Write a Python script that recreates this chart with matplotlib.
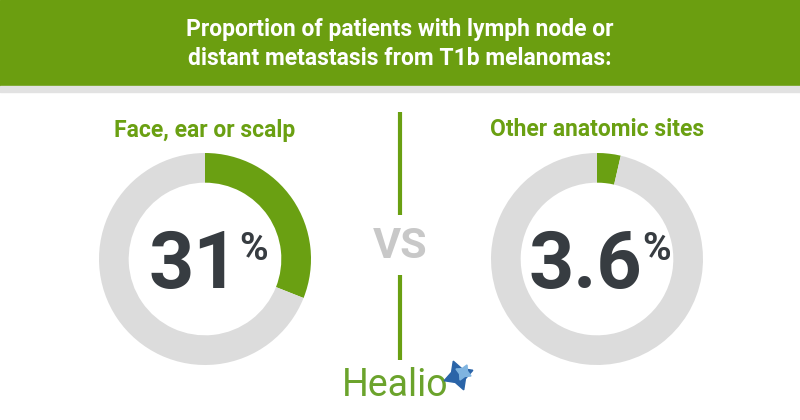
import matplotlib
matplotlib.use("Agg")
import matplotlib.pyplot as plt
from matplotlib.patches import Rectangle

plt.rcParams['font.family'] = ['Roboto', 'DejaVu Sans']

# data
groups = ["Face, ear or scalp", "Other anatomic sites"]
values = [31, 3.6]
labels = ["31", "3.6"]
title = "Proportion of patients with lymph node or\ndistant metastasis from T1b melanomas:"

green = "#6aa012"
ring_gray = "#dcdcdc"
dark = "#373c41"

W, H = 800, 420
fig = plt.figure(figsize=(8, 4.2), dpi=100)
ax = fig.add_axes([0, 0, 1, 1])
ax.set_xlim(0, W)
ax.set_ylim(H, 0)
ax.axis("off")

# header banner
ax.add_patch(Rectangle((0, 0), W, 86, color="#6b9e10", zorder=0))
ax.add_patch(Rectangle((0, 86), W, 6, color="#e2e2e2", zorder=0))
ax.text(W / 2, 44, title, ha="center", va="center", color="white",
        fontsize=16.5, fontweight="bold", linespacing=1.35)

centers = [205, 597]
cy = 259
r = 106

for cx, grp, val, lab in zip(centers, groups, values, labels):
    pax = fig.add_axes([(cx - r) / W, (H - cy - r) / H, 2 * r / W, 2 * r / H])
    pax.pie([val, 100 - val], colors=[green, ring_gray], startangle=90,
            counterclock=False, radius=1,
            wedgeprops=dict(width=0.28, linewidth=0))
    pax.set_xlim(-1, 1)
    pax.set_ylim(-1, 1)
    pax.set_aspect("equal")
    pax.axis("off")

    ax.text(cx, 130, grp, ha="center", va="center", color=green,
            fontsize=16.5, fontweight="bold")

# numbers with superscript percent, measured so the pair is centered
fig.canvas.draw()
rend = fig.canvas.get_renderer()
gap = 0
for cx, lab in zip(centers, labels):
    t1 = ax.text(0, 288, lab, ha="left", va="baseline", color=dark,
                 fontsize=57, fontweight="bold", zorder=5)
    t2 = ax.text(0, 231, "%", ha="left", va="top", color=dark,
                 fontsize=28, fontweight="bold", zorder=5)
    w1 = t1.get_window_extent(rend).width
    w2 = t2.get_window_extent(rend).width
    x0 = cx - (w1 + w2 + gap) / 2 + 3
    t1.set_x(x0)
    t2.set_x(x0 + w1 + gap)

# separator and VS
ax.plot([400, 400], [112, 215], color=green, lw=3, solid_capstyle="butt")
ax.plot([400, 400], [275, 360], color=green, lw=3, solid_capstyle="butt")
ax.text(400, 247, "VS", ha="center", va="center", color="#c8c8c8",
        fontsize=31, fontweight="bold")

# logo
ax.text(395, 385, "Healio", ha="center", va="center", color="#6ba32c",
        fontsize=27)
ax.plot(458, 375, marker=(4, 1, 20), markersize=22, color="#2a64a8", zorder=6)
ax.plot(463, 372, marker=(4, 1, 65), markersize=12, color="#7fb4e0", zorder=7)

fig.savefig("out.png", dpi=100)
